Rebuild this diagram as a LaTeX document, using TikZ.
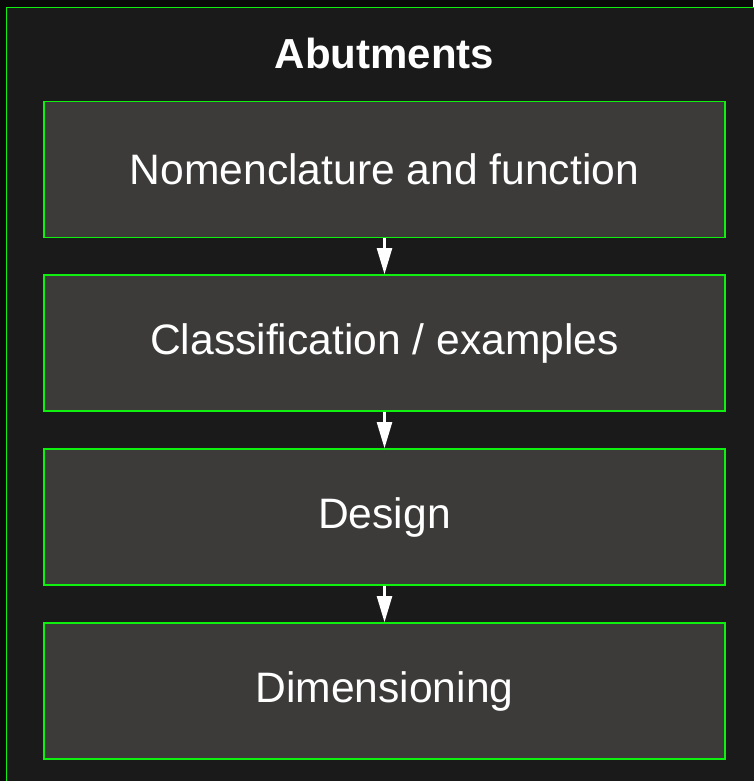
\documentclass[tikz,border=0pt]{standalone}
\usepackage{fontspec}
\setmainfont{Liberation Sans}
\usetikzlibrary{arrows.meta}
\definecolor{outerbg}{HTML}{0A0A0A}
\definecolor{framebg}{HTML}{1A1A1A}
\definecolor{boxbg}{HTML}{3C3B3A}
\definecolor{edgegreen}{HTML}{10F010}
\tikzset{
  stepbox/.style={draw=edgegreen, line width=1.6pt, fill=boxbg, minimum width=681pt, minimum height=136pt, inner sep=0pt, text=white, font=\fontsize{42.6pt}{48pt}\selectfont},
  flow/.style={draw=white, line width=2.2pt, -{Triangle[length=26pt,width=15pt]}, shorten >=0pt}
}
\begin{document}
\begin{tikzpicture}[x=1pt,y=-1pt]
\useasboundingbox (0,0) rectangle (753,781);
\fill[outerbg] (0,0) rectangle (753,781);
\draw[draw=edgegreen, line width=1.6pt, fill=framebg] (6.5,7.5) rectangle (770,800);
\node[text=white, font=\bfseries\fontsize{42pt}{48pt}\selectfont] (title) at (384.5,53) {Abutments};
\node[stepbox] (b1) at (384.5,169.5) {Nomenclature and function};
\node[stepbox] (b2) at (384.5,343) {Classification / examples};
\node[stepbox] (b3) at (384.5,517) {Design};
\node[stepbox] (b4) at (384.5,691) {Dimensioning};
\draw[flow] (b1.south) -- (b2.north);
\draw[flow] (b2.south) -- (b3.north);
\draw[flow] (b3.south) -- (b4.north);
\end{tikzpicture}
\end{document}
